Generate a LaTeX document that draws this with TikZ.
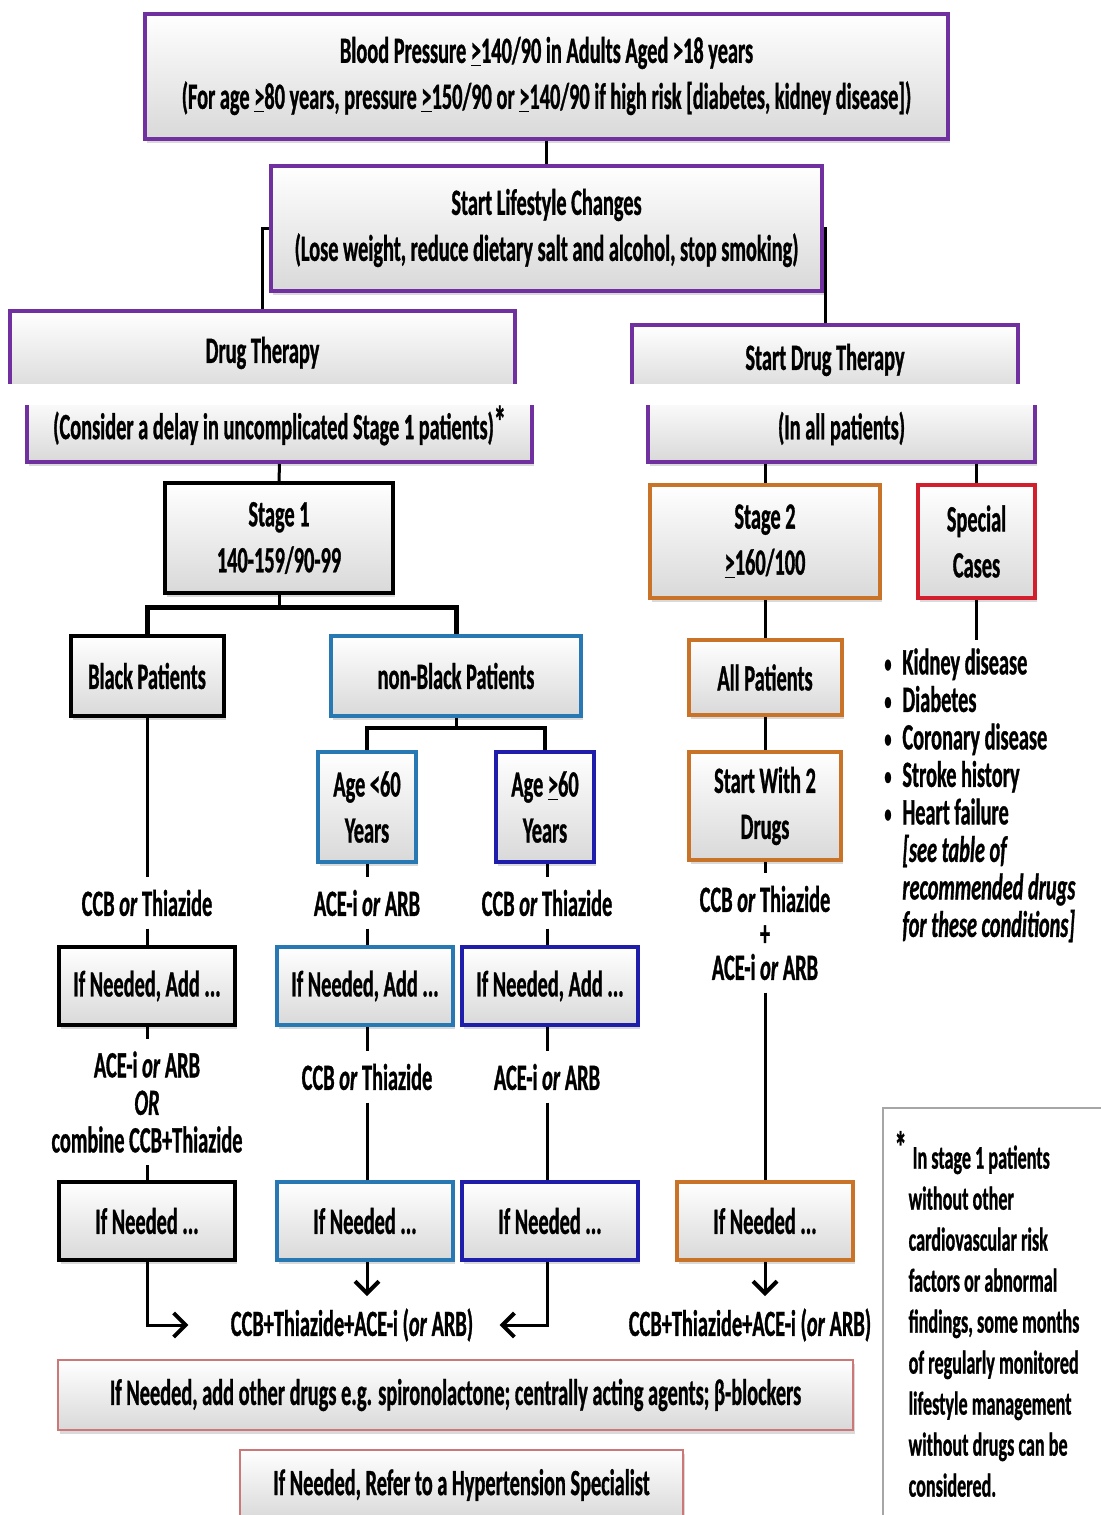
\documentclass[tikz,border=0pt]{standalone}
\usepackage{fontspec}
\setmainfont{Carlito}[FakeStretch=0.55,BoldFeatures={FakeBold=0.8},BoldItalicFeatures={FakeBold=0.8}]
\usetikzlibrary{shadows,arrows.meta}

\definecolor{bppurple}{RGB}{112,48,160}
\definecolor{nbblue}{RGB}{40,120,180}
\definecolor{olddarkblue}{RGB}{30,30,170}
\definecolor{stageorange}{RGB}{200,115,40}
\definecolor{specialred}{RGB}{210,30,45}
\definecolor{extrapink}{RGB}{205,120,120}

\newcommand\gequ{\underline{>}}
\newcommand\spbullet{\makebox[11.5pt][l]{\hspace{2.5pt}\raisebox{1pt}{\scalebox{0.7}{\textbullet}}}}
\newcommand\spindent{\hphantom{\spbullet}}
\newcommand\bigast{\smash{\raisebox{1pt}{\fontsize{22}{22}\selectfont*}}}

\begin{document}
\begin{tikzpicture}
  [x=0.5pt,y=-0.5pt,
   every node/.style={font=\bfseries\fontsize{18.5}{23}\selectfont,inner sep=0pt,align=center},
   flowbox/.style={draw=#1,line width=2pt,top color=white,bottom color=gray!30,
     drop shadow={opacity=0.3,shadow xshift=1pt,shadow yshift=-2pt}},
   thinbox/.style={draw=extrapink,line width=1pt,top color=white,bottom color=gray!30,
     drop shadow={opacity=0.3,shadow xshift=1pt,shadow yshift=-2pt}},
   drugtxt/.style={inner ysep=6pt},
   conn/.style={line width=1.5pt},
   arr/.style={conn,-{Straight Barb[length=6pt,width=12pt,line width=2pt]}}]
  \useasboundingbox (0,0) rectangle (1101,1515);

  \node[flowbox=bppurple,minimum width=401.5pt,minimum height=62.5pt] (bp) at (546.5,76)
    {Blood Pressure \gequ140/90 in Adults Aged >18 years\\
     (For age \gequ80 years, pressure \gequ150/90 or \gequ140/90 if high risk [diabetes, kidney disease])};
  \node[flowbox=bppurple,minimum width=275.5pt,minimum height=62.5pt] (life) at (546.5,228)
    {Start Lifestyle Changes\\(Lose weight, reduce dietary salt and alcohol, stop smoking)};

  \begin{scope}
    \clip (0,0) rectangle (1101,383);
    \node[flowbox=bppurple,minimum width=252.5pt,minimum height=42pt] (drugtop) at (262.5,353) {Drug Therapy};
    \node[flowbox=bppurple,minimum width=193pt,minimum height=35pt] (startdrug) at (825,360) {Start Drug Therapy};
  \end{scope}
  \begin{scope}
    \clip (0,405) rectangle (1101,1515);
    \node[flowbox=bppurple,minimum width=252.5pt,minimum height=33.5pt] (drugbot) at (279.5,428.5)
      {(Consider a delay in uncomplicated Stage 1 patients)\bigast};
    \node[flowbox=bppurple,minimum width=193.5pt,minimum height=33.5pt] (allpts) at (841.5,428.5) {(In all patients)};
  \end{scope}

  \node[flowbox=black,minimum width=114pt,minimum height=55pt] (stage1) at (279,538) {Stage 1\\140-159/90-99};
  \node[flowbox=stageorange,minimum width=115pt,minimum height=56.5pt] (stage2) at (765,541.5) {Stage 2\\\gequ160/100};
  \node[flowbox=specialred,minimum width=58.5pt,minimum height=56.5pt] (special) at (976.5,541.5) {Special\\Cases};

  \node[flowbox=black,minimum width=76.5pt,minimum height=40pt] (black) at (147,676) {Black Patients};
  \node[flowbox=nbblue,minimum width=125pt,minimum height=40pt] (nonblack) at (456,676) {non-Black Patients};
  \node[flowbox=nbblue,minimum width=49pt,minimum height=55pt] (young) at (367,807) {Age <60\\Years};
  \node[flowbox=olddarkblue,minimum width=49pt,minimum height=55pt] (old) at (545,807) {Age \gequ60\\Years};
  \node[flowbox=stageorange,minimum width=76.5pt,minimum height=37.5pt] (allp) at (765,677.5) {All Patients};
  \node[flowbox=stageorange,minimum width=76pt,minimum height=54pt] (twodrug) at (765,806) {Start With 2\\Drugs};

  \node[anchor=north west,align=left,font=\bfseries\fontsize{18.5}{18.75}\selectfont] (spec) at (879,648)
    {\spbullet Kidney disease\\ \spbullet Diabetes\\ \spbullet Coronary disease\\ \spbullet Stroke history\\
     \spbullet Heart failure\\ \spindent\textit{[see table of}\\ \spindent\textit{recommended drugs}\\
     \spindent\textit{for these conditions]}};
  \coordinate (specend) at (976.5,640);

  \node[drugtxt] (bdrug1) at (147,903) {CCB \textit{or} Thiazide};
  \node[drugtxt] (ydrug1) at (367,903) {ACE-i \textit{or} ARB};
  \node[drugtxt] (odrug1) at (547,903) {CCB \textit{or} Thiazide};
  \node[drugtxt,font=\bfseries\fontsize{18.5}{17}\selectfont] (tdrug) at (765,933)
    {CCB \textit{or} Thiazide\\+\\ACE-i \textit{or} ARB};

  \node[flowbox=black,minimum width=88pt,minimum height=39pt] (badd) at (147,986) {If Needed, Add ...};
  \node[flowbox=nbblue,minimum width=88pt,minimum height=39pt] (yadd) at (365,986) {If Needed, Add ...};
  \node[flowbox=olddarkblue,minimum width=88pt,minimum height=39pt] (oadd) at (550,986) {If Needed, Add ...};

  \node[drugtxt,font=\bfseries\fontsize{18.5}{18.75}\selectfont] (bdrug2) at (147,1102)
    {ACE-i \textit{or} ARB\\\textit{OR}\\combine CCB+Thiazide};
  \node[drugtxt] (ydrug2) at (367,1077) {CCB \textit{or} Thiazide};
  \node[drugtxt] (odrug2) at (547,1077) {ACE-i \textit{or} ARB};

  \node[flowbox=black,minimum width=88pt,minimum height=39pt] (bneed) at (147,1221) {If Needed ...};
  \node[flowbox=nbblue,minimum width=88pt,minimum height=39pt] (yneed) at (365,1221) {If Needed ...};
  \node[flowbox=olddarkblue,minimum width=88pt,minimum height=39pt] (oneed) at (550,1221) {If Needed ...};
  \node[flowbox=stageorange,minimum width=88pt,minimum height=39pt] (tneed) at (765,1221) {If Needed ...};

  \node[drugtxt] (triL) at (352,1325) {CCB+Thiazide+ACE-i (\textit{or} ARB)};
  \node[drugtxt] (triR) at (750,1325) {CCB+Thiazide+ACE-i (\textit{or} ARB)};

  \node[thinbox,minimum width=397.5pt,minimum height=35pt] (other) at (455.5,1395)
    {If Needed, add other drugs e.g. spironolactone; centrally acting agents; β-blockers};
  \node[thinbox,minimum width=221.5pt,minimum height=35pt] (refer) at (461.5,1485)
    {If Needed, Refer to a Hypertension Specialist};

  \node[draw=gray!70,line width=1pt,fill=white,minimum width=111pt,minimum height=206pt,align=left,
    font=\bfseries\fontsize{16.5}{20.5}\selectfont] (note) at (994,1314)
    {\llap{\raisebox{3pt}{\fontsize{22}{22}\selectfont*}\hspace{1pt}}\hspace{2pt}In stage 1 patients\\ without other\\ cardiovascular risk\\
     factors or abnormal\\ findings, some months\\ of regularly monitored\\ lifestyle management\\
     without drugs can be\\ considered.};

  \coordinate (s1fork) at (279,607);
  \coordinate (nbfork) at (456,728);

  \draw[conn] (bp) -- (life);
  \draw[conn] (life.west) -| (drugtop.north);
  \draw[conn] (life.east) -| (startdrug.north);
  \draw[conn] (drugbot.south) -- (stage1.north);
  \draw[conn] (stage2.north |- allpts.south) -- (stage2.north);
  \draw[conn] (special.north |- allpts.south) -- (special.north);

  \draw[conn] (stage1.south) -- (s1fork);
  \draw[conn,line width=2.5pt] (black.north) |- (s1fork) -| (nonblack.north);
  \draw[conn] (nonblack.south) -- (nbfork);
  \draw[conn,line width=2pt] (young.north) |- (nbfork) -| (old.north);

  \draw[conn] (black) -- (bdrug1);
  \draw[conn] (bdrug1) -- (bdrug1 |- badd.north);
  \draw[conn] (badd) -- (bdrug2);
  \draw[conn] (bdrug2) -- (bneed);
  \draw[arr] (bneed.south) |- ([xshift=-21pt]triL.west);

  \draw[conn] (young) -- (ydrug1);
  \draw[conn] (ydrug1) -- (ydrug1 |- yadd.north);
  \draw[conn] (ydrug2 |- yadd.south) -- (ydrug2);
  \draw[conn] (ydrug2) -- (ydrug2 |- yneed.north);
  \draw[arr] (yneed.south -| ydrug2) -- (ydrug2 |- triL.north);

  \draw[conn] (old.south -| odrug1) -- (odrug1);
  \draw[conn] (odrug1) -- (odrug1 |- oadd.north);
  \draw[conn] (odrug2 |- oadd.south) -- (odrug2);
  \draw[conn] (odrug2) -- (odrug2 |- oneed.north);
  \draw[arr] (oneed.south -| odrug2) |- ([xshift=13pt]triL.east);

  \draw[conn] (stage2) -- (allp);
  \draw[conn] (allp) -- (twodrug);
  \draw[conn] (twodrug) -- (tdrug);
  \draw[conn] (tdrug) -- (tneed);
  \draw[arr] (tneed.south) -- (tneed.south |- triR.north);

  \draw[conn] (special.south) -- (specend);
\end{tikzpicture}
\end{document}
